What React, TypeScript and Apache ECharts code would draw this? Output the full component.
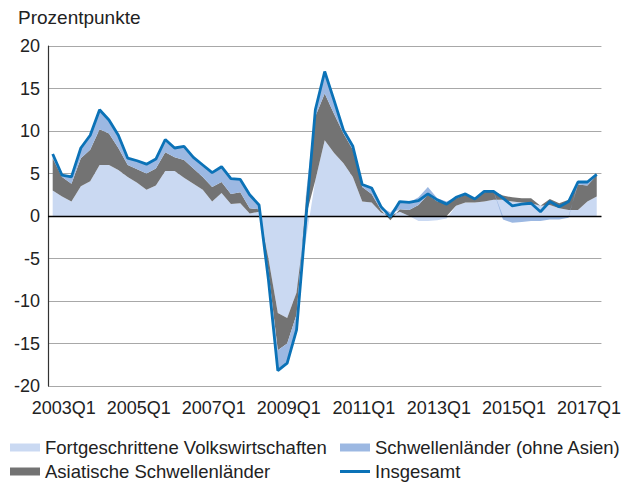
import React, { useEffect, useRef } from "react";
import * as echarts from "echarts";

const quarters = [
  "2003Q1","2003Q2","2003Q3","2003Q4","2004Q1","2004Q2","2004Q3","2004Q4",
  "2005Q1","2005Q2","2005Q3","2005Q4","2006Q1","2006Q2","2006Q3","2006Q4",
  "2007Q1","2007Q2","2007Q3","2007Q4","2008Q1","2008Q2","2008Q3","2008Q4",
  "2009Q1","2009Q2","2009Q3","2009Q4","2010Q1","2010Q2","2010Q3","2010Q4",
  "2011Q1","2011Q2","2011Q3","2011Q4","2012Q1","2012Q2","2012Q3","2012Q4",
  "2013Q1","2013Q2","2013Q3","2013Q4","2014Q1","2014Q2","2014Q3","2014Q4",
  "2015Q1","2015Q2","2015Q3","2015Q4","2016Q1","2016Q2","2016Q3","2016Q4",
  "2017Q1","2017Q2","2017Q3"
];

const advanced = [
  3.0,2.3,1.7,3.5,4.1,6.0,6.0,5.4,4.6,3.9,
  3.1,3.6,5.3,5.3,4.5,3.8,3.1,1.7,2.7,1.4,
  1.5,0.3,0.5,-5.0,-11.4,-12.0,-9.0,-2.8,4.2,8.9,
  7.4,6.2,4.6,1.7,1.6,0.4,0.2,0.5,0.0,-0.6,
  -0.6,-0.5,-0.3,1.2,1.6,1.6,1.7,1.9,1.9,1.7,
  1.6,1.5,1.2,1.3,0.9,0.7,0.7,1.7,2.3
];

const asiaEM = [
  3.8,2.3,2.1,3.3,3.7,4.2,3.7,2.6,1.4,1.6,
  1.9,2.0,2.2,1.6,2.1,1.8,1.5,1.7,1.3,1.2,
  1.3,0.6,0.3,-1.5,-4.4,-3.0,-2.6,2.0,7.5,5.5,
  4.6,3.5,3.2,1.7,1.0,0.3,-0.5,0.3,0.7,1.3,
  2.5,1.7,1.5,0.9,0.9,0.3,1.1,1.0,0.5,0.5,
  0.5,0.6,0.0,0.7,0.6,1.2,3.0,1.9,2.5
];

const otherEM = [
  0.5,0.2,0.8,1.2,1.7,2.3,1.6,1.5,0.8,1.0,
  1.1,1.1,1.5,1.1,1.6,1.3,1.4,1.7,1.8,1.8,
  1.5,1.6,0.5,-1.0,-2.4,-2.3,-1.8,0.5,0.8,2.6,
  1.6,0.4,0.4,0.3,0.7,0.4,0.2,0.9,0.9,0.9,
  0.9,0.4,0.2,0.1,0.1,0.1,0.1,0.0,-0.4,-0.8,
  -0.7,-0.6,-0.6,-0.4,-0.4,-0.2,0.3,0.4,0.1
];

const total = [
  7.3,4.8,4.6,8.0,9.5,12.5,11.3,9.5,6.8,6.5,
  6.1,6.7,9.0,8.0,8.2,6.9,6.0,5.1,5.8,4.4,
  4.3,2.5,1.3,-7.5,-18.2,-17.3,-13.4,-0.3,12.5,17.0,
  13.6,10.1,8.2,3.7,3.3,1.1,-0.1,1.7,1.6,1.8,
  2.6,1.9,1.4,2.2,2.6,2.0,2.9,2.9,2.1,1.2,
  1.4,1.5,0.5,1.7,1.1,1.7,4.0,4.0,4.9
];

const names = [
  "Fortgeschrittene Volkswirtschaften",
  "Schwellenländer (ohne Asien)",
  "Asiatische Schwellenländer",
  "Insgesamt"
];

const C_ADV = "#cad9f2";
const C_EM = "#9cb8e2";
const C_ASIA = "#737373";
const C_LINE = "#0b72b7";
const FONT = "'Liberation Sans', Arial, sans-serif";
const FS = 18;
const FS_LEG = 18.5;

export default function App() {
  const ref = useRef<HTMLDivElement>(null);
  useEffect(() => {
    if (!ref.current) return;
    const chart = echarts.init(ref.current, null, { renderer: "svg" });
    const legendText = { fontSize: FS_LEG, color: "#222", fontFamily: FONT };
    const mkLegend = (name: string, left: number, top: number, icon: string, color: string, h: number) => ({
      show: true,
      left,
      top,
      padding: 0,
      itemWidth: 30,
      itemHeight: h,
      itemGap: 0,
      textStyle: legendText,
      data: [{ name, icon, itemStyle: { color, borderWidth: 0 } }],
    });
    const areaSeries = (name: string, data: number[], color: string) => ({
      name,
      type: "line",
      stack: "sum",
      data,
      symbol: "none",
      lineStyle: { width: 0 },
      itemStyle: { color },
      areaStyle: { color, opacity: 1 },
      z: 2,
    });
    chart.setOption({
      animation: false,
      textStyle: { fontFamily: FONT },
      grid: { left: 48, right: 22, top: 46, bottom: 98, containLabel: false },
      graphic: [
        {
          type: "text",
          left: 18,
          top: 8,
          style: { text: "Prozentpunkte", fontSize: 19, fill: "#222", fontFamily: FONT },
        },
      ],
      legend: [
        mkLegend(names[0], 10, 438, "rect", C_ADV, 8),
        mkLegend(names[1], 340, 438, "rect", C_EM, 8),
        mkLegend(names[2], 10, 462, "rect", C_ASIA, 8),
        mkLegend(names[3], 340, 462, "rect", C_LINE, 3),
      ],
      xAxis: {
        type: "category",
        data: quarters,
        boundaryGap: true,
        axisLine: { show: false },
        axisTick: { show: false },
        splitLine: { show: false },
        axisLabel: {
          interval: 7,
          fontSize: FS,
          color: "#222",
          fontFamily: FONT,
          margin: 13,
          padding: [0, 0, 0, 22],
        },
      },
      yAxis: {
        type: "value",
        min: -20,
        max: 20,
        interval: 5,
        axisLine: { show: true, lineStyle: { color: "#333", width: 1.2 } },
        axisTick: { show: false },
        splitLine: { show: true, lineStyle: { color: "#a8a8a8", width: 1.2 } },
        axisLabel: { fontSize: FS, color: "#222", fontFamily: FONT, margin: 8 },
      },
      series: [
        areaSeries(names[0], advanced, C_ADV),
        areaSeries(names[2], asiaEM, C_ASIA),
        areaSeries(names[1], otherEM, C_EM),
        {
          name: names[3],
          type: "line",
          data: total,
          symbol: "none",
          lineStyle: { color: C_LINE, width: 2.8 },
          itemStyle: { color: C_LINE },
          z: 4,
          markLine: {
            silent: true,
            symbol: "none",
            label: { show: false },
            lineStyle: { color: "#000", width: 1.3, type: "solid" },
            data: [{ yAxis: 0 }],
            z: 3,
          },
        },
      ],
    });
    return () => chart.dispose();
  }, []);
  return (
    <div
      ref={ref}
      style={{ position: "fixed", left: 0, top: 0, width: 624, height: 484, background: "#fff" }}
    />
  );
}
